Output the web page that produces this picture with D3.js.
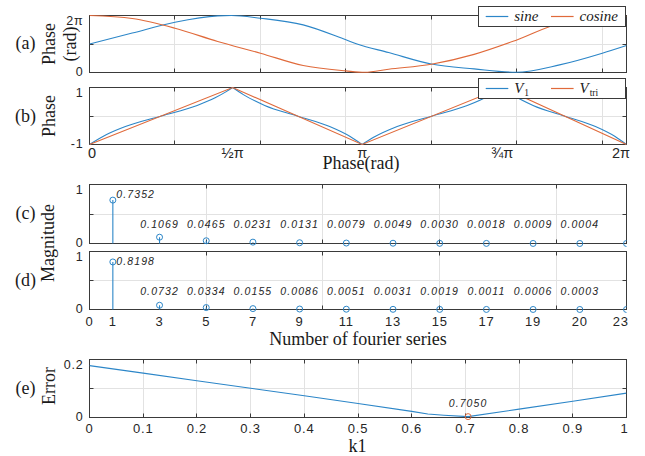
<!DOCTYPE html>
<html>
<head>
<meta charset="utf-8">
<script src="https://cdn.jsdelivr.net/npm/d3@7"></script>
<style>
body { margin: 0; background: #fff; }
svg { display: block; }
.tick-label { font-family: "Liberation Sans", Arial, sans-serif; font-size: 12.5px; letter-spacing: 0.8px; fill: #262626; }
.title { font-family: "Liberation Serif", "Times New Roman", serif; font-size: 18px; fill: #1a1a1a; }
.anno { font-family: "Liberation Sans", Arial, sans-serif; font-size: 10.5px; font-style: italic; letter-spacing: 1.1px; fill: #262626; }
.legend-text { font-family: "Liberation Serif", "Times New Roman", serif; font-style: italic; font-size: 15px; fill: #1a1a1a; }
</style>
</head>
<body>
<div id="chart"></div>
<script>
// ---- data ----
// (a) phase curves, x in rad
const sineX = [0, 0.5, 1, 1.5, 1.66, 2, 2.5, 3, 3.13, 3.5, 4, 4.5, 4.99, 5.5, 6, 6.283];
const sineY = [3.14, 4.35, 5.54, 6.24, 6.28, 5.98, 5.25, 3.6, 3.14, 2.2, 0.93, 0.4, 0.03, 0.84, 2.13, 2.98];
const cosX = [0, 0.5, 1, 1.5, 2, 2.5, 3, 3.22, 3.5, 4, 4.5, 5, 5.5, 6, 6.283];
const cosY = [6.28, 5.95, 4.88, 3.42, 2.13, 0.77, 0.18, 0.02, 0.36, 0.91, 2.0, 3.59, 5.4, 5.95, 6.2];

// (b) V1 and triangle
const v1X = [0, 0.2, 0.42, 0.84, 1.26, 1.47, 1.6, 1.675, 1.8, 2.05, 2.43, 2.81, 3.05, 3.19,
             3.33, 3.6, 4.01, 4.42, 4.69, 4.83, 4.97, 5.19, 5.556, 5.92, 6.15, 6.283];
const v1Y = [-1, -0.65, -0.37, 0, 0.37, 0.64, 0.855, 1, 0.75, 0.37, 0, -0.37, -0.72, -1,
             -0.74, -0.37, 0, 0.37, 0.74, 1, 0.71, 0.37, 0, -0.37, -0.72, -1];
const triX = [0, 1.675, 3.19, 4.83, 6.283];
const triY = [-1, 1, -1, 1, -1];

const phaseTickPos = [0.03, 1.675, 3.19, 4.83, 6.22];
const phaseTickText = ['0', '½π', 'π', '¾π', '2π'];

// (c), (d) fourier magnitudes
const harmonics = [1, 3, 5, 7, 9, 11, 13, 15, 17, 19, 21, 23];
const magC = [0.7352, 0.1069, 0.0465, 0.0231, 0.0131, 0.0079, 0.0049, 0.0030, 0.0018, 0.0009, 0.0004, 0.0002];
const magD = [0.8198, 0.0732, 0.0334, 0.0155, 0.0086, 0.0051, 0.0031, 0.0019, 0.0011, 0.0006, 0.0003, 0.0002];
const harmTickPos = [0, 1, 3, 5, 7, 9, 11, 13, 15, 17, 19, 21, 22.75];
const harmTickText = ['0', '1', '3', '5', '7', '9', '11', '13', '15', '17', '19', '20', '23'];

// (e) error vs k1
const errK = [0, 0.1, 0.2, 0.3, 0.4, 0.5, 0.6, 0.63, 0.66, 0.705, 0.8, 0.9, 1.0];
const errV = [0.179, 0.153, 0.127, 0.101, 0.075, 0.048, 0.021, 0.012, 0.008, 0.003, 0.029, 0.056, 0.084];
const errTicks = [0, 0.1, 0.2, 0.3, 0.4, 0.5, 0.6, 0.7, 0.8, 0.9, 1];

// ---- layout ----
const W = 645, H = 456;
const left = 89.5, right = 626.5;
const blue = '#2c86c8', orange = '#e06a3b';
const gridColor = '#e2e2e2', axisColor = '#3a3a3a';

const svg = d3.select('#chart').append('svg')
    .attr('width', W)
    .attr('height', H);

const crisp = v => Math.round(v - 0.5) + 0.5;
let clipId = 0;

// draw box, grid, inner ticks and y tick labels for one panel
function panel(top, bottom, x, yDomain, gridX, gridY, yLabels) {
    const y = d3.scaleLinear().domain(yDomain).range([bottom, top]);
    const g = svg.append('g');

    g.selectAll('.gx').data(gridX).enter().append('line')
        .attr('x1', d => crisp(x(d))).attr('x2', d => crisp(x(d)))
        .attr('y1', top).attr('y2', bottom)
        .attr('stroke', gridColor);
    g.selectAll('.gy').data(gridY).enter().append('line')
        .attr('x1', left).attr('x2', right)
        .attr('y1', d => crisp(y(d))).attr('y2', d => crisp(y(d)))
        .attr('stroke', gridColor);

    // inner ticks, MATLAB style
    const tl = 4;
    gridX.forEach(d => {
        const xx = crisp(x(d));
        g.append('line').attr('x1', xx).attr('x2', xx).attr('y1', bottom).attr('y2', bottom - tl).attr('stroke', axisColor);
        g.append('line').attr('x1', xx).attr('x2', xx).attr('y1', top).attr('y2', top + tl).attr('stroke', axisColor);
    });
    gridY.forEach(d => {
        const yy = crisp(y(d));
        g.append('line').attr('x1', left).attr('x2', left + tl).attr('y1', yy).attr('y2', yy).attr('stroke', axisColor);
        g.append('line').attr('x1', right).attr('x2', right - tl).attr('y1', yy).attr('y2', yy).attr('stroke', axisColor);
    });

    g.append('rect')
        .attr('x', left).attr('y', top)
        .attr('width', right - left).attr('height', bottom - top)
        .attr('fill', 'none').attr('stroke', axisColor);

    yLabels.forEach(([v, t]) => {
        const yy = Math.max(top + 4.5, Math.min(bottom - 1, y(v)));
        g.append('text').attr('class', 'tick-label')
            .attr('x', 83.5).attr('y', yy).attr('dy', '0.36em')
            .attr('text-anchor', 'end').text(t);
    });

    const id = 'clip' + (clipId++);
    svg.append('clipPath').attr('id', id).append('rect')
        .attr('x', left).attr('y', top - 10).attr('width', right - left).attr('height', bottom - top + 20);
    const data = svg.append('g').attr('clip-path', `url(#${id})`);
    return { y, data };
}

function drawLine(g, xs, ys, x, y, color, curve) {
    const pts = xs.map((d, i) => [d, ys[i]]);
    g.append('path')
        .attr('d', d3.line().x(d => x(d[0])).y(d => y(d[1])).curve(curve || d3.curveLinear)(pts))
        .attr('fill', 'none').attr('stroke', color).attr('stroke-width', 1.1);
}

function rotTitle(text, x, yc) {
    svg.append('text').attr('class', 'title')
        .attr('transform', `translate(${x},${yc}) rotate(-90)`)
        .attr('text-anchor', 'middle').text(text);
}
function panelTag(text, yb) {
    svg.append('text').attr('class', 'title')
        .attr('x', 25.5).attr('y', yb).attr('text-anchor', 'middle').text(text);
}

// ---- (a) and (b) ----
const xPhase = d3.scaleLinear().domain([0, 2 * Math.PI]).range([left, right]);
const radGrid = [1, 2, 3, 4, 5, 6];

const pa = panel(15.5, 72.5, xPhase, [0, 2 * Math.PI], radGrid, [Math.PI], [[0, '0'], [2 * Math.PI, '2π']]);
drawLine(pa.data, sineX, sineY, xPhase, pa.y, blue, d3.curveMonotoneX);
drawLine(pa.data, cosX, cosY, xPhase, pa.y, orange, d3.curveMonotoneX);

const pb = panel(87.5, 144.5, xPhase, [-1, 1], radGrid, [0], [[-1, '-1'], [1, '1']]);
// V1 drawn ramp by ramp so the peaks stay sharp
let start = 0;
for (let i = 1; i < v1X.length; i++) {
    if (Math.abs(v1Y[i]) === 1) {
        drawLine(pb.data, v1X.slice(start, i + 1), v1Y.slice(start, i + 1), xPhase, pb.y, blue, d3.curveMonotoneX);
        start = i;
    }
}
drawLine(pb.data, triX, triY, xPhase, pb.y, orange);

phaseTickPos.forEach((p, i) => {
    svg.append('text').attr('class', 'tick-label')
        .style('font-size', '14.5px').style('letter-spacing', '0px')
        .attr('x', xPhase(p)).attr('y', 158)
        .attr('text-anchor', 'middle').text(phaseTickText[i]);
});

// legends
function legend(yTop, items) {
    const g = svg.append('g');
    g.append('rect').attr('x', 478.5).attr('y', yTop).attr('width', 147).attr('height', 20)
        .attr('fill', '#fff').attr('stroke', axisColor);
    items.forEach((it, i) => {
        const x0 = 485.7 + i * 65.3;
        const ly = yTop + 10;
        g.append('line').attr('x1', x0).attr('x2', x0 + 22.6).attr('y1', ly).attr('y2', ly)
            .attr('stroke', it.color).attr('stroke-width', 1.2);
        const t = g.append('text').attr('class', 'legend-text')
            .attr('x', x0 + 28.5).attr('y', yTop + 14.5);
        t.append('tspan').text(it.main);
        if (it.sub) {
            t.append('tspan').attr('dy', 3).style('font-size', '9.5px').style('font-style', 'normal')
                .attr('dx', 1).text(it.sub);
        }
    });
}
legend(6.5, [{ color: blue, main: 'sine' }, { color: orange, main: 'cosine' }]);
legend(78.5, [{ color: blue, main: 'V', sub: '1' }, { color: orange, main: 'V', sub: 'tri' }]);

// ---- (c) and (d) ----
const xHarm = d3.scaleLinear().domain([0, 23]).range([left, right]);
const harmGrid = [5, 10, 15, 20];
const fmt = d3.format('.4f');

function stems(p, vals, firstDy, rowVal) {
    harmonics.forEach((h, i) => {
        p.data.append('line')
            .attr('x1', xHarm(h)).attr('x2', xHarm(h))
            .attr('y1', p.y(0)).attr('y2', p.y(vals[i]))
            .attr('stroke', blue).attr('stroke-width', 1.1);
        p.data.append('circle')
            .attr('cx', xHarm(h)).attr('cy', p.y(vals[i])).attr('r', 3)
            .attr('fill', 'none').attr('stroke', blue).attr('stroke-width', 1);
    });
    harmonics.slice(0, 11).forEach((h, i) => {
        const t = svg.append('text').attr('class', 'anno').text(fmt(vals[i]));
        if (i === 0) {
            t.attr('x', xHarm(h) + 3.5).attr('y', p.y(vals[i]) + firstDy).attr('dy', '0.36em');
        } else {
            t.attr('x', xHarm(h)).attr('y', p.y(rowVal)).attr('dy', '0.36em').attr('text-anchor', 'middle');
        }
    });
}

const pc = panel(184.5, 243.5, xHarm, [0, 1], harmGrid, [0.5], [[0, '0'], [1, '1']]);
stems(pc, magC, -6, 0.32);
const pd = panel(251.5, 309.5, xHarm, [0, 1], harmGrid, [0.5], [[0, '0'], [1, '1']]);
stems(pd, magD, -1, 0.32);

harmTickPos.forEach((p, i) => {
    svg.append('text').attr('class', 'tick-label').style('font-size', '13px')
        .attr('x', xHarm(p)).attr('y', 326)
        .attr('text-anchor', 'middle').text(harmTickText[i]);
});

// ---- (e) ----
const xK = d3.scaleLinear().domain([0, 1]).range([left, right]);
const pe = panel(359.5, 417.5, xK, [0, 0.2], errTicks.slice(1, 10), [0.1], [[0, '0'], [0.2, '0.2']]);
drawLine(pe.data, errK, errV, xK, pe.y, blue);
const iMin = d3.minIndex(errV);
pe.data.append('circle')
    .attr('cx', xK(errK[iMin])).attr('cy', pe.y(errV[iMin])).attr('r', 3)
    .attr('fill', 'none').attr('stroke', orange).attr('stroke-width', 1);
svg.append('text').attr('class', 'anno')
    .attr('x', xK(errK[iMin])).attr('y', pe.y(errV[iMin]) - 13.5).attr('dy', '0.36em')
    .attr('text-anchor', 'middle').text(d3.format('.4f')(errK[iMin]));

errTicks.forEach(t => {
    svg.append('text').attr('class', 'tick-label').style('font-size', '13px')
        .attr('x', Math.min(xK(t), right - 2)).attr('y', 432.5)
        .attr('text-anchor', 'middle').text(d3.format('')(t));
});

// ---- titles ----
panelTag('(a)', 48.7);
panelTag('(b)', 122);
panelTag('(c)', 218.7);
panelTag('(d)', 286);
panelTag('(e)', 393.7);

rotTitle('Phase', 55.4, 44);
rotTitle('(rad)', 76.4, 44);
rotTitle('Phase', 55.4, 116);
rotTitle('Magnitude', 53.7, 243);
rotTitle('Error', 55.4, 386);

svg.append('text').attr('class', 'title').attr('x', 361).attr('y', 169)
    .attr('text-anchor', 'middle').text('Phase(rad)');
svg.append('text').attr('class', 'title').attr('x', 358).attr('y', 344.5)
    .attr('text-anchor', 'middle').text('Number of fourier series');
svg.append('text').attr('class', 'title').attr('x', 357.5).attr('y', 452)
    .attr('text-anchor', 'middle').text('k1');
</script>
</body>
</html>
